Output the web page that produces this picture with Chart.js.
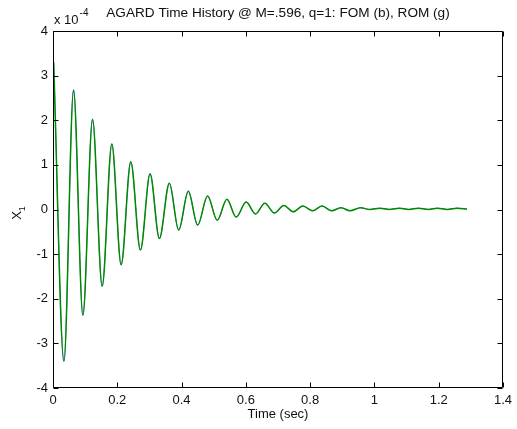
<!DOCTYPE html>
<html><head><meta charset="utf-8">
<script src="https://cdn.jsdelivr.net/npm/chart.js@4/dist/chart.umd.min.js"></script>
<style>html,body{margin:0;padding:0;background:#fff;}#wrap{width:517px;height:429px;}</style>
</head><body><div id="wrap"><canvas id="c" width="517" height="429"></canvas></div>
<script>
const chartTitle = 'AGARD Time History @ M=.596, q=1: FOM (b), ROM (g)';
const xAxisLabel = 'Time (sec)';
const yAxisLabel = 'X';
const yAxisSub = '1';
const yExponentBase = 'x 10';
const yExponent = '-4';
const xTicks = [0, 0.2, 0.4, 0.6, 0.8, 1, 1.2, 1.4];
const yTicks = [-4, -3, -2, -1, 0, 1, 2, 3, 4];
// time (sec) of extrema
const times = [0.002,0.034,0.064,0.093,0.123,0.153,0.183,0.212,0.242,0.272,0.302,0.331,0.362,0.391,0.421,0.450,0.481,0.511,0.541,0.570,0.601,0.630,0.659,0.689,0.718,0.748,0.777,0.808,0.837,0.867,0.896,0.924,0.957,0.986,1.017,1.047,1.078,1.107,1.137,1.168,1.196,1.227,1.257,1.288];
// X1 in units of 1e-4
const fomValues = [3.30,-3.40,2.68,-2.37,2.02,-1.72,1.47,-1.24,1.07,-0.91,0.80,-0.65,0.59,-0.46,0.41,-0.35,0.30,-0.24,0.23,-0.17,0.17,-0.10,0.14,-0.08,0.09,-0.05,0.08,-0.03,0.08,-0.03,0.04,-0.03,0.04,0.00,0.03,0.00,0.03,0.00,0.03,0.00,0.03,0.00,0.03,0.01];
const romValues = [3.30,-3.40,2.68,-2.37,2.02,-1.72,1.47,-1.24,1.07,-0.91,0.80,-0.65,0.59,-0.46,0.41,-0.35,0.30,-0.24,0.23,-0.17,0.17,-0.10,0.14,-0.08,0.09,-0.05,0.08,-0.03,0.08,-0.03,0.04,-0.03,0.04,0.00,0.03,0.00,0.03,0.00,0.03,0.00,0.03,0.00,0.03,0.01];

const FONT = '"Liberation Sans", Arial, Helvetica, sans-serif';
const TXT = '#111';

const overlay = {
  id: 'overlay',
  afterDraw(chart) {
    const {ctx, chartArea: a, scales: {x, y}} = chart;
    ctx.save();
    ctx.strokeStyle = '#000';
    ctx.lineWidth = 1;
    const L = Math.round(a.left) + 0.5, R = Math.round(a.right) - 0.5;
    const T = Math.round(a.top) + 0.5, B = Math.round(a.bottom) - 0.5;
    ctx.beginPath();
    ctx.rect(L, T, R - L, B - T);
    const tl = 5;
    xTicks.forEach(v => {
      const px = Math.round(x.getPixelForValue(v)) + 0.5;
      ctx.moveTo(px, B); ctx.lineTo(px, B - tl);
      ctx.moveTo(px, T); ctx.lineTo(px, T + tl);
    });
    yTicks.forEach(v => {
      const py = Math.round(y.getPixelForValue(v)) + 0.5;
      ctx.moveTo(L, py); ctx.lineTo(L + tl, py);
      ctx.moveTo(R, py); ctx.lineTo(R - tl, py);
    });
    ctx.stroke();

    ctx.fillStyle = TXT;
    // title
    ctx.font = '13.6px ' + FONT;
    ctx.textAlign = 'center';
    ctx.textBaseline = 'middle';
    ctx.fillText(chartTitle, (a.left + a.right) / 2, 13);
    // x axis label
    ctx.font = '13px ' + FONT;
    ctx.fillText(xAxisLabel, (a.left + a.right) / 2, 414);
    // exponent
    ctx.textAlign = 'left';
    ctx.textBaseline = 'alphabetic';
    ctx.font = '13px ' + FONT;
    ctx.fillText(yExponentBase, a.left + 1, 24);
    const w = ctx.measureText(yExponentBase).width;
    ctx.font = '10px ' + FONT;
    ctx.fillText(yExponent, a.left + 1 + w + 1, 16);
    // y axis label rotated
    ctx.save();
    ctx.translate(21, (a.top + a.bottom) / 2 + 4);
    ctx.rotate(-Math.PI / 2);
    ctx.font = '13px ' + FONT;
    ctx.textAlign = 'left';
    ctx.textBaseline = 'alphabetic';
    const wx = ctx.measureText(yAxisLabel).width;
    ctx.fillText(yAxisLabel, -wx / 2 - 2, 0);
    ctx.font = '9px ' + FONT;
    ctx.fillText(yAxisSub, wx / 2 - 2, 4);
    ctx.restore();
    ctx.restore();
  }
};

const mk = arr => times.map((t, i) => ({x: t, y: arr[i]}));

new Chart(document.getElementById('c'), {
  type: 'line',
  data: {
    datasets: [
      {label: 'ROM', order: 0, data: mk(romValues), borderColor: '#008a00', borderWidth: 1.5, pointRadius: 0, cubicInterpolationMode: 'monotone', fill: false},
      {label: 'FOM', order: 1, data: mk(fomValues), borderColor: '#0000ff', borderWidth: 0.5, pointRadius: 0, cubicInterpolationMode: 'monotone', fill: false}
    ]
  },
  options: {
    responsive: false,
    animation: false,
    devicePixelRatio: 1,
    layout: {padding: {top: 31, right: 9, left: 0, bottom: 0}},
    plugins: {legend: {display: false}, tooltip: {enabled: false}, title: {display: false}},
    scales: {
      x: {
        type: 'linear', min: 0, max: 1.4,
        afterBuildTicks: s => { s.ticks = xTicks.map(v => ({value: v})); },
        afterFit: s => { s.height = 41; },
        grid: {display: false, drawTicks: false},
        border: {display: false},
        ticks: {padding: 5, color: TXT, font: {family: FONT, size: 13}, maxRotation: 0, autoSkip: false, callback: v => String(v)}
      },
      y: {
        type: 'linear', min: -4, max: 4,
        afterBuildTicks: s => { s.ticks = yTicks.map(v => ({value: v})); },
        afterFit: s => { s.width = 53; },
        grid: {display: false, drawTicks: false},
        border: {display: false},
        ticks: {padding: 5, color: TXT, font: {family: FONT, size: 13}, autoSkip: false, callback: v => String(v)}
      }
    }
  },
  plugins: [overlay]
});
</script>
</body></html>
